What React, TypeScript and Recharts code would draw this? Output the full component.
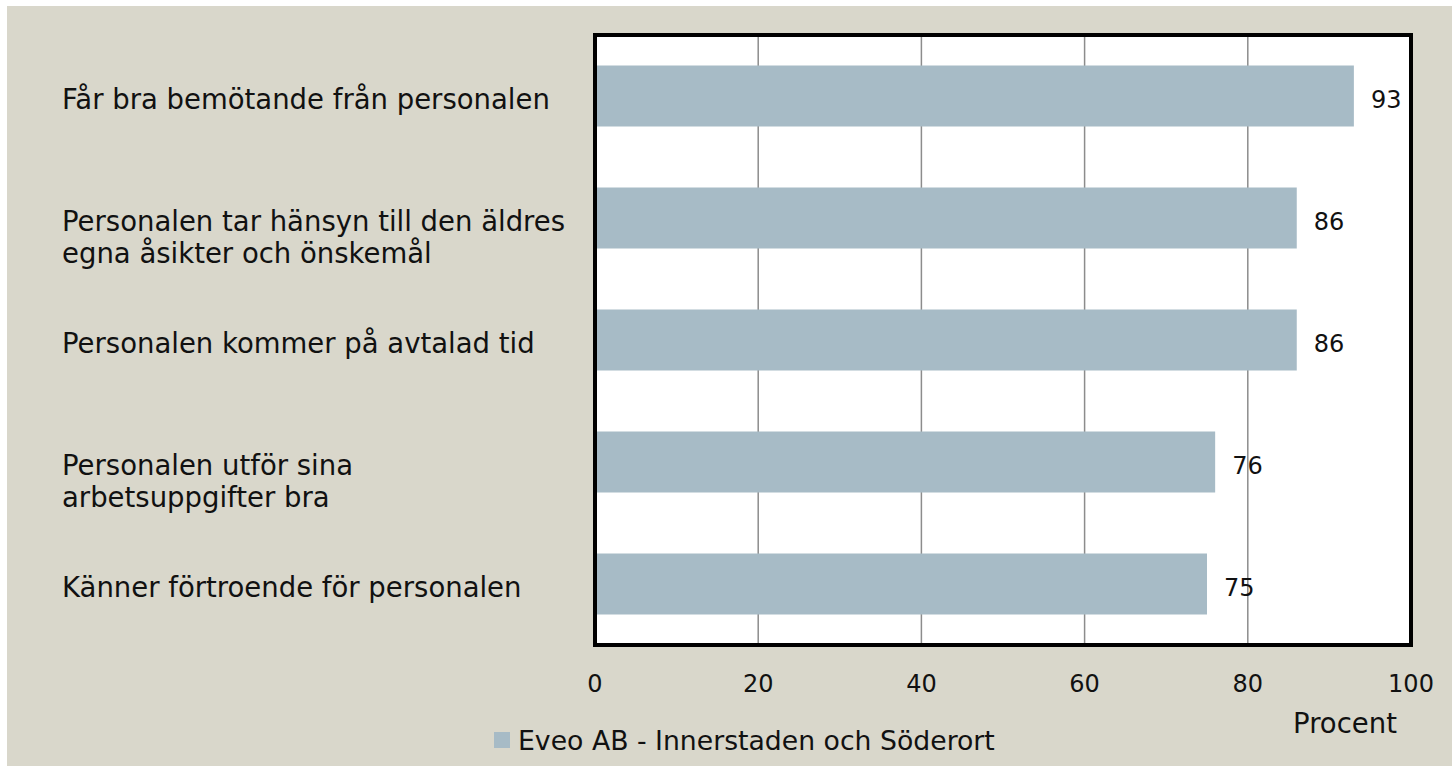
import React from 'react';
import { BarChart, Bar, XAxis, YAxis, CartesianGrid, LabelList, Label } from 'recharts';

const categories = [
  'Får bra bemötande från personalen',
  'Personalen tar hänsyn till den äldres\negna åsikter och önskemål',
  'Personalen kommer på avtalad tid',
  'Personalen utför sina\narbetsuppgifter bra',
  'Känner förtroende för personalen',
];
const values = [93, 86, 86, 76, 75];
const xTicks = [0, 20, 40, 60, 80, 100];
const seriesName = 'Eveo AB - Innerstaden och Söderort';
const axisTitle = 'Procent';

const data = categories.map((c, i) => ({ name: c, value: values[i] }));

const FONT = '"DejaVu Sans", sans-serif';
const BG = '#d9d7cb';
const BAR = '#a7bbc6';
const TEXT = '#111111';
const frameLine = { stroke: '#000', strokeWidth: 4, strokeLinecap: 'square' as const };

const CategoryTick = (props: any) => {
  const { y, payload } = props;
  const lines = String(payload.value).split('\n');
  return (
    <text x={62} y={y + 13} fontFamily={FONT} fontSize={27.5} fill={TEXT} textAnchor="start">
      {lines.map((l, i) => (
        <tspan key={i} x={62} dy={i === 0 ? 0 : 32}>{l}</tspan>
      ))}
    </text>
  );
};

const XTick = (props: any) => {
  const { x, y, payload } = props;
  return (
    <text x={x} y={y + 38 + 8.7} fontFamily={FONT} fontSize={24} fill={TEXT} textAnchor="middle">
      {payload.value}
    </text>
  );
};

const ValueLabel = (props: any) => {
  const { x, y, width, height, value } = props;
  return (
    <text x={Number(x) + Number(width) + 17} y={Number(y) + Number(height) / 2 + 3 + 8.7} fontFamily={FONT} fontSize={24} fill={TEXT} textAnchor="start">
      {value}
    </text>
  );
};

const ProcentLabel = (props: any) => {
  const vb = props.viewBox || { x: 595, y: 645, width: 816 };
  return (
    <text x={vb.x + vb.width - 66} y={vb.y + 78 + 10} fontFamily={FONT} fontSize={27.5} fill={TEXT} textAnchor="middle">
      {axisTitle}
    </text>
  );
};

export default function App() {
  return (
    <div style={{ position: 'absolute', left: 0, top: 0, width: 1452, height: 776, background: '#fff', overflow: 'hidden' }}>
      <div style={{ position: 'absolute', left: 7, top: 6, width: 1445, height: 760, background: BG }} />
      <div style={{ position: 'absolute', left: 0, top: 0 }}>
        <BarChart
          width={1452}
          height={776}
          data={data}
          layout="vertical"
          margin={{ top: 34, right: 40, bottom: 41, left: 0 }}
          barCategoryGap="25%"
        >
          <CartesianGrid horizontal={false} vertical={true} stroke="#8c8c8c" strokeWidth={1.5} fill="#ffffff" fillOpacity={1} />
          <XAxis
            type="number"
            domain={[0, 100]}
            ticks={xTicks}
            tick={<XTick />}
            tickLine={false}
            tickSize={0}
            tickMargin={0}
            axisLine={frameLine}
            height={90}
            interval={0}
          >
            <Label content={<ProcentLabel />} />
          </XAxis>
          <XAxis
            xAxisId="top"
            orientation="top"
            type="number"
            domain={[0, 100]}
            ticks={xTicks}
            tick={false}
            tickLine={false}
            tickSize={0}
            axisLine={frameLine}
            height={1}
          />
          <YAxis
            type="category"
            dataKey="name"
            width={595}
            tick={<CategoryTick />}
            tickLine={false}
            axisLine={frameLine}
            interval={0}
          />
          <YAxis
            yAxisId="right"
            orientation="right"
            type="category"
            dataKey="name"
            width={1}
            tick={false}
            tickLine={false}
            tickSize={0}
            axisLine={frameLine}
          />
          <Bar dataKey="value" fill={BAR} isAnimationActive={false} name={seriesName}>
            <LabelList dataKey="value" content={<ValueLabel />} />
          </Bar>
        </BarChart>
      </div>
      <div style={{ position: 'absolute', left: 494, top: 725, height: 30, display: 'flex', alignItems: 'center', fontFamily: FONT, fontSize: 26.7, color: TEXT, whiteSpace: 'nowrap' }}>
        <span style={{ display: 'inline-block', width: 16, height: 16, background: BAR, marginRight: 8 }} />
        <span>{seriesName}</span>
      </div>
    </div>
  );
}
